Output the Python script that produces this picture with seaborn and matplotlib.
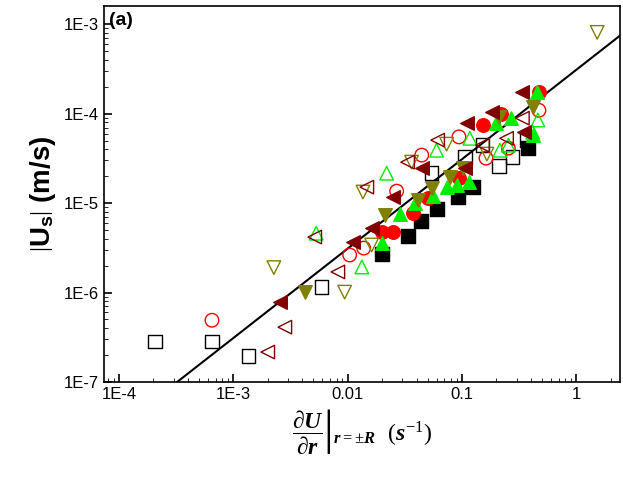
import matplotlib
matplotlib.use("Agg")
import matplotlib.pyplot as plt
import seaborn as sns
import numpy as np
import pandas as pd
from matplotlib.ticker import FixedLocator, LogLocator, NullFormatter

sq_open_x = [2.06e-4, 6.5e-4, 1.36e-3, 5.9e-3, 0.106, 0.0542, 0.21, 0.277, 0.37, 0.151]
sq_open_y = [2.84e-7, 2.84e-7, 1.95e-7, 1.15e-6, 3.27e-5, 2.16e-5, 2.59e-5, 3.27e-5, 5.06e-5, 4.45e-5]
sq_fill_x = [0.0198, 0.0334, 0.0434, 0.0598, 0.0917, 0.124, 0.38]
sq_fill_y = [2.7e-6, 4.3e-6, 6.3e-6, 8.6e-6, 1.17e-5, 1.51e-5, 4.12e-5]
ci_open_x = [6.5e-4, 0.0104, 0.0138, 0.0268, 0.0444, 0.094, 0.162, 0.254, 0.47]
ci_open_y = [4.9e-7, 2.63e-6, 3.14e-6, 1.36e-5, 3.44e-5, 5.5e-5, 3.18e-5, 4.12e-5, 1.09e-4]
ci_fill_x = [0.0198, 0.0247, 0.0376, 0.05, 0.094, 0.151, 0.22, 0.47]
ci_fill_y = [4.75e-6, 4.75e-6, 7.7e-6, 1.14e-5, 1.9e-5, 7.4e-5, 9.9e-5, 1.74e-4]
up_open_x = [5.3e-3, 0.0219, 0.0133, 0.0598, 0.117, 0.214, 0.254, 0.46, 0.415]
up_open_y = [4.6e-6, 2.16e-5, 1.93e-6, 3.9e-5, 5.3e-5, 3.9e-5, 4.45e-5, 8.5e-5, 6.2e-5]
up_fill_x = [0.0198, 0.0284, 0.0385, 0.0555, 0.0733, 0.0896, 0.116, 0.2, 0.27, 0.45, 0.415]
up_fill_y = [3.57e-6, 7.5e-6, 1.0e-5, 1.2e-5, 1.51e-5, 1.59e-5, 1.72e-5, 7.8e-5, 8.9e-5, 1.74e-4, 5.75e-5]
dn_open_x = [2.26e-3, 9.4e-3, 0.0136, 0.0162, 0.0362, 0.0733, 0.165, 1.52]
dn_open_y = [1.9e-6, 1.01e-6, 1.33e-5, 3.4e-6, 2.87e-5, 4.56e-5, 3.53e-5, 8.1e-4]
dn_fill_x = [4.2e-3, 0.021, 0.0412, 0.0542, 0.0785, 0.101, 0.21, 0.415]
dn_fill_y = [1.01e-6, 7.3e-6, 1.08e-5, 1.47e-5, 1.95e-5, 2.46e-5, 9.1e-5, 1.18e-4]
lt_open_x = [2.82e-3, 2.0e-3, 8.2e-3, 5.15e-3, 0.0147, 0.0334, 0.0612, 0.151, 0.245, 0.337]
lt_open_y = [4.1e-7, 2.16e-7, 1.7e-6, 4.17e-6, 1.51e-5, 2.87e-5, 5.06e-5, 4.45e-5, 5.3e-5, 8.9e-5]
lt_fill_x = [2.55e-3, 0.0111, 0.0162, 0.0247, 0.0444, 0.106, 0.111, 0.181, 0.337, 0.35]
lt_fill_y = [7.8e-7, 3.66e-6, 5.3e-6, 1.17e-5, 2.46e-5, 2.46e-5, 7.8e-5, 1.04e-4, 1.74e-4, 6.2e-5]

fit_slope = 3.1e-4
fit_x = [7.4e-5, 2.4]

series = [
    (sq_open_x, sq_open_y, "s", "black", False),
    (sq_fill_x, sq_fill_y, "s", "black", True),
    (ci_open_x, ci_open_y, "o", "red", False),
    (ci_fill_x, ci_fill_y, "o", "red", True),
    (up_open_x, up_open_y, "^", "#00ee00", False),
    (up_fill_x, up_fill_y, "^", "#00ee00", True),
    (dn_open_x, dn_open_y, "v", "#808000", False),
    (dn_fill_x, dn_fill_y, "v", "#808000", True),
    (lt_open_x, lt_open_y, "<", "#800000", False),
    (lt_fill_x, lt_fill_y, "<", "#800000", True),
]

sns.set_style("ticks")
plt.rcParams["font.family"] = ["Liberation Sans", "DejaVu Sans"]
plt.rcParams["text.color"] = "black"
plt.rcParams["axes.labelcolor"] = "black"
plt.rcParams["xtick.color"] = "black"
plt.rcParams["ytick.color"] = "black"
plt.rcParams["axes.edgecolor"] = "black"
plt.rcParams["mathtext.fontset"] = "custom"
plt.rcParams["mathtext.rm"] = "Liberation Serif"
plt.rcParams["mathtext.it"] = "Liberation Serif:italic"
plt.rcParams["mathtext.bf"] = "Liberation Sans:bold"
plt.rcParams["mathtext.bfit"] = "Liberation Serif:bold:italic"

fig = plt.figure(figsize=(6.23, 4.98), dpi=100)
ax = fig.add_axes([0.167, 0.233, 0.828, 0.755])

fx = np.array(fit_x)
sns.lineplot(x=fx, y=fit_slope * fx, color="black", lw=1.5, ax=ax)

for xs, ys, m, c, filled in series:
    sns.scatterplot(x=xs, y=ys, marker=m, s=95, ax=ax,
                    facecolor=c if filled else "none", edgecolor=c,
                    linewidth=1.0, zorder=3)

ax.set_xscale("log")
ax.set_yscale("log")
ax.set_xlim(7.4e-5, 2.4)
ax.set_ylim(1e-7, 1.6e-3)
ax.xaxis.set_major_locator(FixedLocator([1e-4, 1e-3, 1e-2, 1e-1, 1]))
ax.set_xticklabels(["1E-4", "1E-3", "0.01", "0.1", "1"])
ax.yaxis.set_major_locator(FixedLocator([1e-7, 1e-6, 1e-5, 1e-4, 1e-3]))
ax.set_yticklabels(["1E-7", "1E-6", "1E-5", "1E-4", "1E-3"])
for a in (ax.xaxis, ax.yaxis):
    a.set_minor_locator(LogLocator(subs=np.arange(2, 10), numticks=20))
    a.set_minor_formatter(NullFormatter())
ax.tick_params(which="both", direction="in", labelsize=12)
ax.tick_params(which="major", length=6, width=1.2)
ax.tick_params(which="minor", length=3)
for sp in ax.spines.values():
    sp.set_linewidth(1.2)

ax.set_ylabel(r"$\left|\mathbf{U}_{\mathbf{s}}\right|$ (m/s)", fontsize=20, fontweight="bold")
ax.set_xlabel(r"$\left.\dfrac{\partial \mathbfit{U}}{\partial \mathbfit{r}}\right|_{\mathbfit{r}=\pm \mathbfit{R}}$  $(\mathbfit{s}^{-1})$",
              fontsize=17, fontweight="bold")
ax.text(0.01, 0.985, "(a)", transform=ax.transAxes, ha="left", va="top",
        fontsize=14, fontweight="bold")

fig.savefig("out.png", dpi=100)
